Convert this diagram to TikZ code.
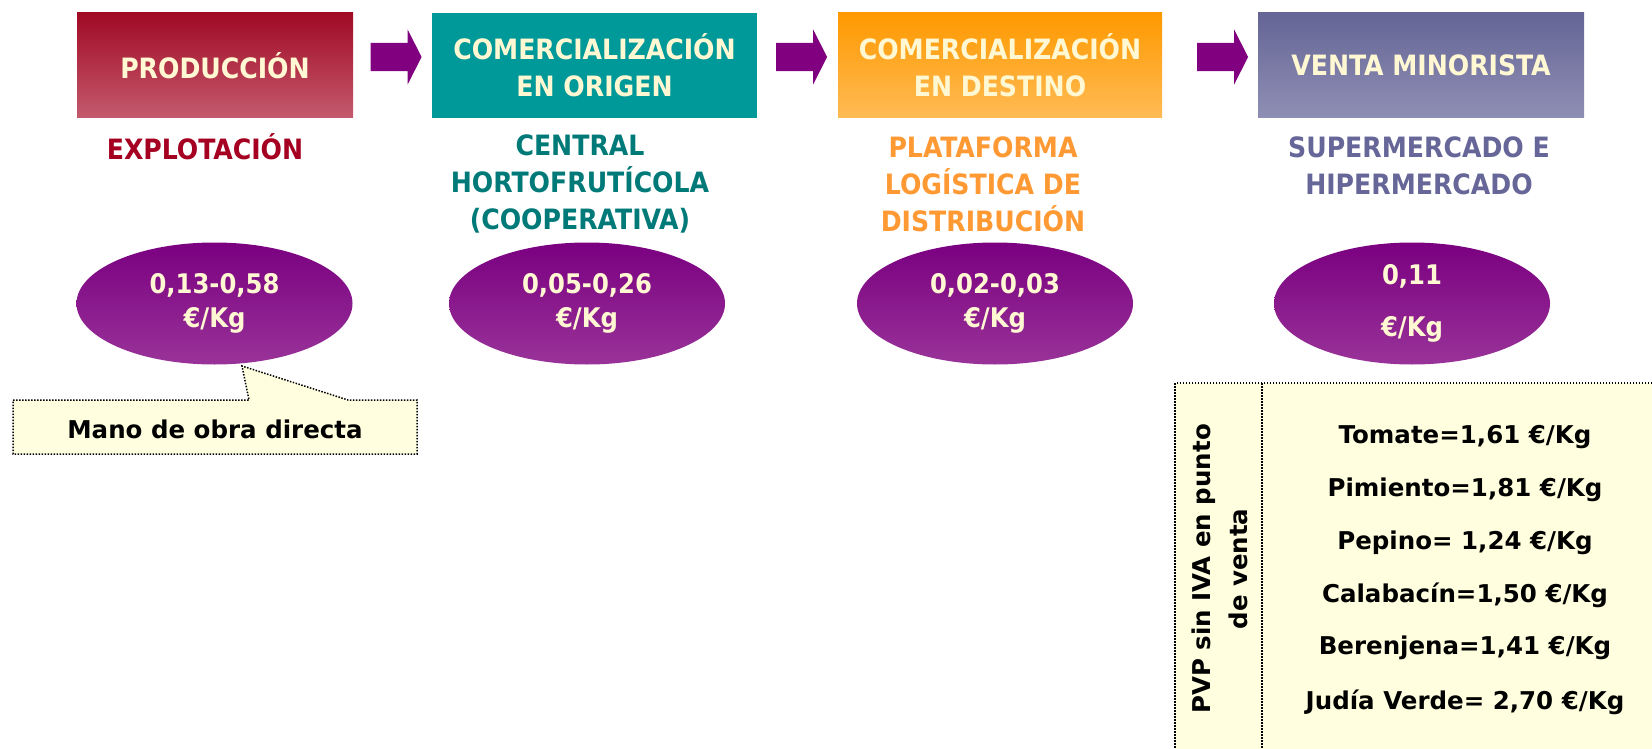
\documentclass[tikz,border=0pt]{standalone}
\usepackage{fontspec}
\setmainfont{DejaVu Sans}
\newfontfamily\cond{DejaVu Sans Condensed}
\usetikzlibrary{shapes.geometric,shapes.arrows}
\definecolor{prodtop}{HTML}{A00A24}
\definecolor{prodbot}{HTML}{C45A6E}
\definecolor{tealbox}{HTML}{009999}
\definecolor{orgtop}{HTML}{FF9900}
\definecolor{orgbot}{HTML}{FFBB55}
\definecolor{slatetop}{HTML}{656596}
\definecolor{slatebot}{HTML}{8F8FB5}
\definecolor{cream}{HTML}{FFF8D2}
\definecolor{arrowpurple}{HTML}{800080}
\definecolor{explred}{HTML}{A50021}
\definecolor{tealtxt}{HTML}{007A78}
\definecolor{orgtxt}{HTML}{FF9933}
\definecolor{slatetxt}{HTML}{666699}
\definecolor{elltop}{HTML}{7A0080}
\definecolor{ellbot}{HTML}{993399}
\definecolor{paleyellow}{HTML}{FFFFE0}
\begin{document}
\begin{tikzpicture}[x=1pt,y=-1pt,
  stagebox/.style={rectangle, minimum height=105pt, inner sep=0pt, text=cream,
    font=\cond\bfseries\fontsize{28}{37}\selectfont, align=center},
  flowarrow/.style={single arrow, fill=arrowpurple, draw=none, inner sep=0pt,
    text height=14pt, text depth=14pt, text width=0pt,
    minimum height=51pt, single arrow head extend=13.5pt,
    single arrow tip angle=126},
  stagelbl/.style={font=\cond\bfseries\fontsize{28}{37}\selectfont, align=center, inner sep=0pt},
  price/.style={ellipse, minimum width=276pt, minimum height=122pt, inner sep=0pt,
    top color=elltop, bottom color=ellbot, draw=none, text=cream,
    font=\cond\bfseries\fontsize{27}{34}\selectfont, align=center},
  dotline/.style={draw=black, line width=1.5pt, dash pattern=on 1.5pt off 1.5pt},
  boldtxt/.style={font=\bfseries\fontsize{24.5}{37}\selectfont, text=black, inner sep=0pt, align=center}
]
\useasboundingbox (0,0) rectangle (1652,749);
\fill[white] (0,0) rectangle (1652,749);

% stage boxes
\node[stagebox, minimum width=276pt, top color=prodtop, bottom color=prodbot] (prod) at (215,65.5) {PRODUCCIÓN};
\node[stagebox, minimum width=325pt, fill=tealbox] (orig) at (594.5,65.5) {COMERCIALIZACIÓN\\EN ORIGEN};
\node[stagebox, minimum width=324pt, top color=orgtop, bottom color=orgbot] (dest) at (1000,65.5) {COMERCIALIZACIÓN\\EN DESTINO};
\node[stagebox, minimum width=326pt, top color=slatetop, bottom color=slatebot] (venta) at (1421,65.5) {VENTA MINORISTA};

% arrows between stages
\node[flowarrow] (a1) at (392.5,57) {};
\node[flowarrow] (a2) at (798,57) {};
\node[flowarrow] (a3) at (1219,57) {};

% labels
\node[stagelbl, text=explred] (l1) at (205,147) {EXPLOTACIÓN};
\node[stagelbl, text=tealtxt] (l2) at (580,184) {CENTRAL\\HORTOFRUTÍCOLA\\(COOPERATIVA)};
\node[stagelbl, text=orgtxt] (l3) at (983,184) {PLATAFORMA\\LOGÍSTICA DE\\DISTRIBUCIÓN};
\node[stagelbl, text=slatetxt] (l4) at (1419,165.5) {SUPERMERCADO E\\HIPERMERCADO};

% price ellipses
\node[price] (e1) at (214.5,303.5) {0,13-0,58\\€/Kg};
\node[price] (e2) at (587,303.5) {0,05-0,26\\€/Kg};
\node[price] (e3) at (995,303.5) {0,02-0,03\\€/Kg};
\node[price] (e4) at (1412,303.5) {0,11\\[18pt]€/Kg};

% callout
\coordinate (tip) at (242,366);
\path[dotline, fill=paleyellow] (13,400) -- (249,400) -- (tip) -- (348,400) -- (417,400)
  -- (417,454) -- (13,454) -- cycle;
\node[boldtxt] (mano) at (215,429) {Mano de obra directa};

% retail price table
\path[dotline, fill=paleyellow] (1175,383) rectangle (1700,800);
\coordinate (divtop) at (1262,383);
\coordinate (divbot) at (1262,800);
\draw[dotline] (divtop) -- (divbot);
\node[boldtxt, rotate=90] (pvp) at (1220,569) {PVP sin IVA en punto\\de venta};
\node[boldtxt] (p1) at (1465,437) {Tomate=1,61 €/Kg};
\node[boldtxt] (p2) at (1465,490) {Pimiento=1,81 €/Kg};
\node[boldtxt] (p3) at (1465,543) {Pepino= 1,24 €/Kg};
\node[boldtxt] (p4) at (1465,595) {Calabacín=1,50 €/Kg};
\node[boldtxt] (p5) at (1465,648) {Berenjena=1,41 €/Kg};
\node[boldtxt] (p6) at (1465,702) {Judía Verde= 2,70 €/Kg};
\end{tikzpicture}
\end{document}
